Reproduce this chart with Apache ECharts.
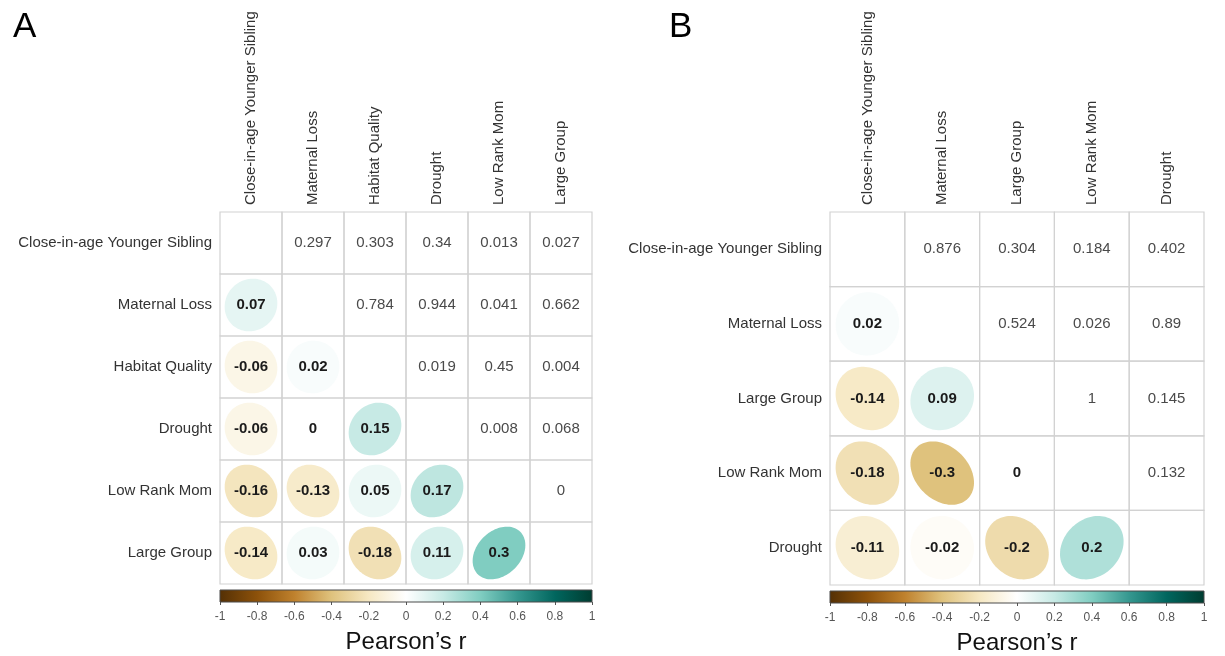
<!DOCTYPE html>
<html>
<head>
<meta charset="utf-8">
<script src="https://cdn.jsdelivr.net/npm/echarts@6/dist/echarts.min.js"></script>
<style>
  html, body { margin: 0; padding: 0; background: #ffffff; }
  #chart { width: 1225px; height: 656px; }
</style>
</head>
<body>
<div id="chart"></div>
<script>
// ---- Panel A: variables, correlations (lower triangle) and p-values (upper triangle)
const varsA = ['Close-in-age Younger Sibling', 'Maternal Loss', 'Habitat Quality', 'Drought', 'Low Rank Mom', 'Large Group'];
// corrA[i] : r of row i+1 with columns 0..i
const corrA = [
  [0.07],
  [-0.06, 0.02],
  [-0.06, 0, 0.15],
  [-0.16, -0.13, 0.05, 0.17],
  [-0.14, 0.03, -0.18, 0.11, 0.3]
];
// pA[i] : p of row i with columns i+1..n-1
const pA = [
  [0.297, 0.303, 0.34, 0.013, 0.027],
  [0.784, 0.944, 0.041, 0.662],
  [0.019, 0.45, 0.004],
  [0.008, 0.068],
  [0]
];

// ---- Panel B
const varsB = ['Close-in-age Younger Sibling', 'Maternal Loss', 'Large Group', 'Low Rank Mom', 'Drought'];
const corrB = [
  [0.02],
  [-0.14, 0.09],
  [-0.18, -0.3, 0],
  [-0.11, -0.02, -0.2, 0.2]
];
const pB = [
  [0.876, 0.304, 0.184, 0.402],
  [0.524, 0.026, 0.89],
  [1, 0.145],
  [0.132]
];

// ---- Colour scale
const scaleTicks = [-1, -0.8, -0.6, -0.4, -0.2, 0, 0.2, 0.4, 0.6, 0.8, 1];
const palette = ['#543005', '#8C510A', '#BF812D', '#DFC27D', '#F6E8C3', '#FFFFFF',
                 '#C7EAE5', '#80CDC1', '#35978F', '#01665E', '#003C30'];
// ellipse fill saturates a little faster than the legend bar
const fillRange = [-0.75, 0.75];
const panelLetters = ['A', 'B'];
const scaleTitle = 'Pearson\u2019s r';

const FONT = '"Liberation Sans", Arial, Helvetica, sans-serif';

// Layout of the two panels (matrix grid + colour bar grid)
const layout = [
  { matrix: { left: 220, top: 212, width: 372, height: 372 }, bar: { left: 220, top: 590, width: 372, height: 12 }, letterX: 8 },
  { matrix: { left: 830, top: 212, width: 374, height: 373 }, bar: { left: 830, top: 591, width: 374, height: 12 }, letterX: 664 }
];

function cellData(vars, pvals) {
  const out = [];
  const n = vars.length;
  for (let r = 0; r < n; r++) {
    for (let c = 0; c < n; c++) {
      const p = c > r ? pvals[r][c - r - 1] : null;
      out.push([c, r, p]);
    }
  }
  return out;
}
function corrData(corr) {
  const out = [];
  corr.forEach((row, i) => row.forEach((v, j) => out.push([j, i + 1, v])));
  return out;
}

// Cell outlines and p-value text
function renderCell(params, api) {
  const c = api.coord([api.value(0), api.value(1)]);
  const s = api.size([1, 1]);
  const p = api.value(2);
  const children = [{
    type: 'rect',
    shape: { x: c[0] - s[0] / 2, y: c[1] - s[1] / 2, width: s[0], height: s[1] },
    style: { fill: 'none', stroke: '#d2d2d2', lineWidth: 1.2 }
  }];
  if (p !== null && p !== undefined && !isNaN(p)) {
    children.push({
      type: 'text',
      x: c[0], y: c[1],
      style: { text: String(p), fill: '#4a4a4a', font: '15px ' + FONT, align: 'center', verticalAlign: 'middle' }
    });
  }
  return { type: 'group', children };
}

// Correlation ellipse (corrplot-style parametrisation) with the value on top
function renderEllipse(params, api) {
  const c = api.coord([api.value(0), api.value(1)]);
  const s = api.size([1, 1]);
  const rho = api.value(2);
  const a = Math.acos(rho) / 2;
  const pts = [];
  const N = 99;
  for (let i = 0; i < N; i++) {
    const k = (2 * Math.PI * i) / (N - 1);
    const x = 0.85 * Math.cos(k + a) / 2;
    const y = 0.85 * Math.cos(k - a) / 2;
    pts.push([c[0] + x * s[0], c[1] - y * s[1]]);
  }
  return {
    type: 'group',
    children: [
      { type: 'polygon', shape: { points: pts }, style: { fill: api.visual('color'), stroke: 'none' } },
      { type: 'text', x: c[0], y: c[1],
        style: { text: String(rho), fill: '#1b1b1b', font: 'bold 15px ' + FONT, align: 'center', verticalAlign: 'middle' } }
    ]
  };
}

// Colour bar rectangle with gradient
function renderBar(params, api) {
  const p0 = api.coord([api.value(0), 0]);
  const p1 = api.coord([api.value(1), 1]);
  const stops = palette.map((col, i) => ({ offset: i / (palette.length - 1), color: col }));
  return {
    type: 'rect',
    shape: { x: p0[0], y: p1[1], width: p1[0] - p0[0], height: p0[1] - p1[1] },
    style: {
      fill: new echarts.graphic.LinearGradient(0, 0, 1, 0, stops),
      stroke: '#4a4a4a', lineWidth: 1
    }
  };
}

const grids = [], xAxes = [], yAxes = [], series = [], titles = [];
const panels = [[varsA, corrA, pA], [varsB, corrB, pB]];
const ellipseSeriesIdx = [];

panels.forEach(([vars, corr, pv], k) => {
  const L = layout[k];
  grids.push(Object.assign({ containLabel: false }, L.matrix));
  grids.push(Object.assign({ containLabel: false }, L.bar));
  const gM = 2 * k, gB = 2 * k + 1;

  xAxes.push({
    type: 'category', gridIndex: gM, data: vars, position: 'top',
    axisLine: { show: false }, axisTick: { show: false }, splitLine: { show: false },
    axisLabel: { interval: 0, rotate: -90, margin: 7, color: '#333', fontSize: 15, fontFamily: FONT }
  });
  yAxes.push({
    type: 'category', gridIndex: gM, data: vars, inverse: true,
    axisLine: { show: false }, axisTick: { show: false }, splitLine: { show: false },
    axisLabel: { interval: 0, margin: 8, color: '#333', fontSize: 15, fontFamily: FONT }
  });
  xAxes.push({
    type: 'value', gridIndex: gB, min: -1, max: 1, position: 'bottom',
    axisLine: { show: false }, splitLine: { show: false },
    axisTick: { show: true, length: 3, customValues: scaleTicks, lineStyle: { color: '#555' } },
    axisLabel: { customValues: scaleTicks, color: '#555', fontSize: 12, fontFamily: FONT, margin: 9,
                 formatter: v => String(+v.toFixed(1)) },
    name: scaleTitle, nameLocation: 'middle', nameGap: 28,
    nameTextStyle: { fontSize: 24, color: '#111', fontFamily: FONT }
  });
  yAxes.push({ type: 'value', gridIndex: gB, min: 0, max: 1, show: false });

  const xi = 2 * k, yi = 2 * k;
  series.push({
    type: 'custom', xAxisIndex: xi, yAxisIndex: yi, renderItem: renderCell,
    data: cellData(vars, pv), encode: { x: 0, y: 1 }, silent: true
  });
  ellipseSeriesIdx.push(series.length);
  series.push({
    type: 'custom', xAxisIndex: xi, yAxisIndex: yi, renderItem: renderEllipse,
    data: corrData(corr), encode: { x: 0, y: 1 }, silent: true
  });
  series.push({
    type: 'custom', xAxisIndex: xi + 1, yAxisIndex: yi + 1, renderItem: renderBar,
    data: [[scaleTicks[0], scaleTicks[scaleTicks.length - 1]]], silent: true
  });

  titles.push({
    text: panelLetters[k], left: L.letterX, top: 5,
    textStyle: { fontSize: 35, fontWeight: 'normal', color: '#000', fontFamily: FONT }
  });
});

const chart = echarts.init(document.getElementById('chart'), null, { renderer: 'canvas' });
chart.setOption({
  animation: false,
  backgroundColor: '#ffffff',
  title: titles,
  grid: grids,
  xAxis: xAxes,
  yAxis: yAxes,
  visualMap: {
    type: 'continuous', show: false, min: fillRange[0], max: fillRange[1], dimension: 2,
    seriesIndex: ellipseSeriesIdx,
    inRange: { color: palette }
  },
  series: series
});
</script>
</body>
</html>
